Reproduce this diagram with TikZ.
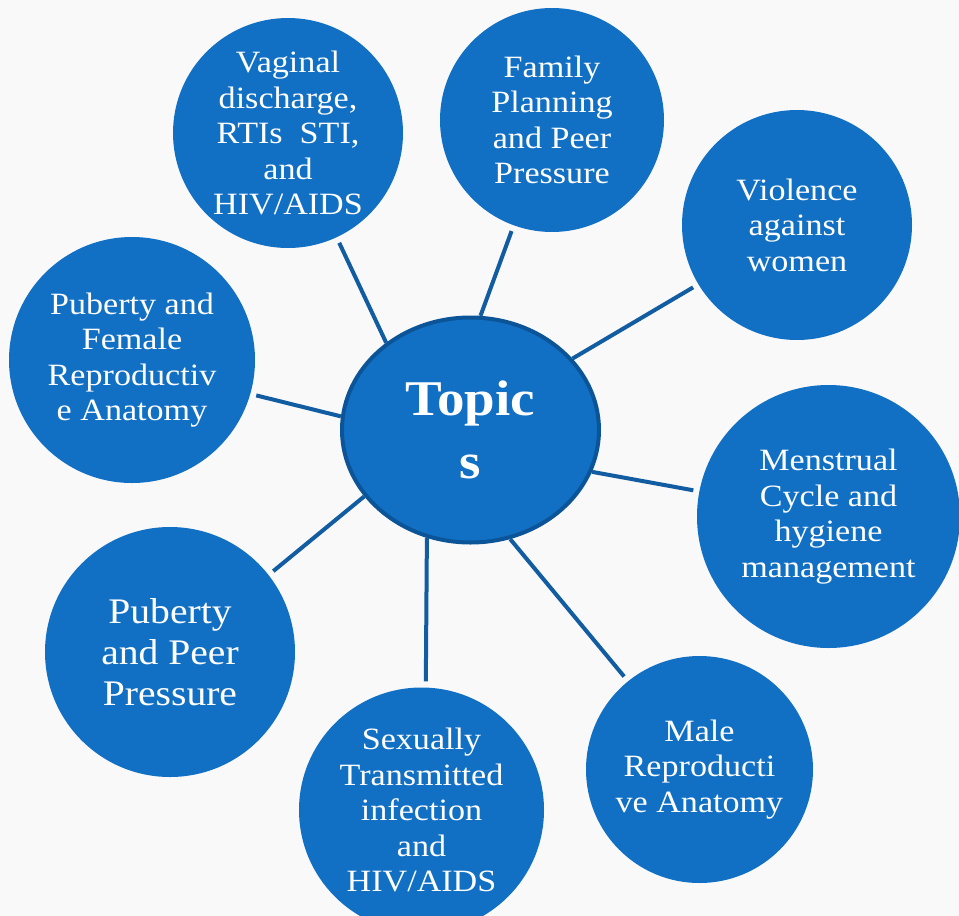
\documentclass[tikz,border=0pt]{standalone}
\usepackage{fontspec}
\setmainfont[FakeStretch=1.1]{Liberation Serif}
\usepackage{tikz}
\usetikzlibrary{shapes.geometric, calc}

\definecolor{ballblue}{RGB}{17,112,196}
\definecolor{rimblue}{RGB}{12,84,152}
\definecolor{spokeblue}{RGB}{18,92,162}
\definecolor{paper}{RGB}{249,249,249}

\begin{document}
\begin{tikzpicture}[x=1pt, y=-1pt,
    ball/.style={circle, fill=ballblue, inner sep=0pt, text=white, align=center,
                 font=\fontsize{31}{35.5}\selectfont},
    spoke/.style={spokeblue, line width=4pt, shorten >=6pt}]

    % canvas
    \fill[paper] (0,0) rectangle (959,916);
    \useasboundingbox (0,0) rectangle (959,916);

    % centre
    \node[ellipse, draw=rimblue, line width=4pt, fill=ballblue, inner sep=0pt,
          minimum width=257pt, minimum height=225pt, text=white, align=center,
          font=\bfseries\fontsize{50}{63}\selectfont] (topics) at (470.5,430) {Topic\\s};

    % topics round the centre
    \node[ball, minimum size=230pt] (vaginal) at (288,133)
        {Vaginal\\discharge,\\RTIs\ \ STI,\\and\\HIV/AIDS};
    \node[ball, minimum size=224pt] (family) at (552,120)
        {Family\\Planning\\and Peer\\Pressure};
    \node[ball, minimum size=230pt] (violence) at (797,225)
        {Violence\\against\\women};
    \node[ball, minimum size=263pt] (menstrual) at (828.5,516.5)
        {Menstrual\\Cycle and\\hygiene\\management};
    \node[ball, minimum size=227pt] (male) at (699.5,769.5)
        {Male\\Reproducti\\ve Anatomy};
    \node[ball, minimum size=245pt] (sti) at (421.5,810)
        {Sexually\\Transmitted\\infection\\and\\HIV/AIDS};
    \node[ball, minimum size=250pt, font=\fontsize{36}{41}\selectfont] (peer) at (170,652)
        {Puberty\\and Peer\\Pressure};
    \node[ball, minimum size=246pt] (female) at (132,360)
        {Puberty and\\Female\\Reproductiv\\e Anatomy};

    % spokes
    \foreach \n/\a/\b in {vaginal/134.5/-65.1, family/85.7/-110.4, violence/35.4/211.2,
                          menstrual/-19.5/169.75, male/-70.1/129.6, sti/248.7/88.9,
                          peer/212.3/38.5, female/174.7/-16.1}{
        \draw[spoke] (topics.\a) -- (\n.\b);
    }
\end{tikzpicture}
\end{document}
